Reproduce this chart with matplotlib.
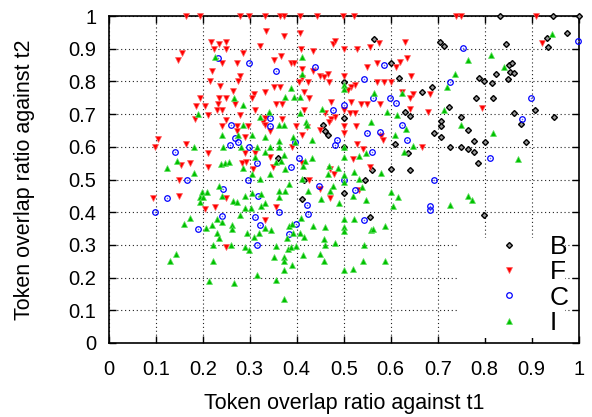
import matplotlib
matplotlib.use('Agg')
import matplotlib.pyplot as plt
from matplotlib.patches import Rectangle
from matplotlib.lines import Line2D

plt.rcParams['font.family'] = ['Liberation Sans', 'DejaVu Sans']

# B: black diamonds
b_x = [0.833, 0.946, 1.0, 0.565, 0.6, 0.618, 0.5, 0.666, 0.631, 0.641, 0.5, 0.455,
       0.46, 0.466, 0.61, 0.5, 0.636, 0.561, 0.6, 0.642, 0.361,
       0.974, 0.933, 0.935, 0.704, 0.713, 0.845, 0.851, 0.857, 0.853, 0.863, 0.823,
       0.787, 0.799, 0.816, 0.849, 0.687, 0.782, 0.818, 0.908, 0.724, 0.863, 0.75,
       0.708, 0.706, 0.878, 0.947, 0.764, 0.692, 0.706, 0.777, 0.8, 0.888, 0.727,
       0.75, 0.764, 0.777, 0.785, 0.555, 0.412, 0.5, 0.416, 0.545, 0.799]
b_y = [1.0, 1.0, 1.0, 0.929, 0.857, 0.812, 0.799, 0.768, 0.707, 0.694, 0.687, 0.666,
       0.649, 0.636, 0.61, 0.6, 0.582, 0.529, 0.531, 0.529, 0.567,
       0.949, 0.932, 0.904, 0.921, 0.908, 0.916, 0.85, 0.857, 0.829, 0.827, 0.822,
       0.811, 0.801, 0.794, 0.808, 0.784, 0.748, 0.748, 0.714, 0.722, 0.702, 0.692,
       0.68, 0.665, 0.671, 0.692, 0.651, 0.643, 0.631, 0.617, 0.615, 0.615, 0.6,
       0.6, 0.592, 0.583, 0.549, 0.385, 0.439, 0.459, 0.5, 0.5, 0.391]

# F: red inverted triangles
f_x = [0.165, 0.194, 0.279, 0.299, 0.333, 0.365, 0.373, 0.407, 0.443, 0.499, 0.522,
       0.739, 0.75, 0.909,
       0.335, 0.217, 0.234, 0.249, 0.322, 0.156, 0.224, 0.249, 0.285, 0.148, 0.24,
       0.272, 0.219, 0.28, 0.216, 0.275, 0.237, 0.265, 0.309, 0.332, 0.195, 0.235,
       0.249, 0.305, 0.185, 0.204, 0.233, 0.268, 0.231, 0.242, 0.311, 0.184, 0.211,
       0.279, 0.332, 0.249, 0.242, 0.272, 0.296, 0.328, 0.333, 0.274, 0.291, 0.104,
       0.164, 0.098, 0.291, 0.311, 0.211, 0.153, 0.174, 0.211, 0.284, 0.293, 0.307,
       0.372, 0.407, 0.478, 0.482, 0.575, 0.63, 0.409, 0.435, 0.5, 0.529, 0.555,
       0.352, 0.366, 0.388, 0.394, 0.411, 0.434, 0.571, 0.62, 0.635, 0.611, 0.549,
       0.411, 0.45, 0.459, 0.466, 0.5, 0.643, 0.404, 0.425, 0.469, 0.524, 0.516,
       0.51, 0.57, 0.586, 0.6, 0.352, 0.365, 0.416, 0.427, 0.623, 0.648, 0.641,
       0.356, 0.368, 0.472, 0.516, 0.537, 0.549, 0.577, 0.641, 0.416, 0.46, 0.513,
       0.523, 0.5, 0.368, 0.482, 0.474, 0.469, 0.399, 0.421, 0.5, 0.526, 0.45,
       0.343, 0.58, 0.584, 0.411, 0.5, 0.528, 0.666, 0.391, 0.343, 0.519, 0.541,
       0.349, 0.411, 0.471, 0.479, 0.556,
       0.922, 0.684, 0.794, 0.679,
       0.15, 0.095, 0.149, 0.25, 0.205, 0.226, 0.333, 0.249, 0.427, 0.45, 0.47,
       0.357, 0.533]
f_y = [1.0, 1.0, 1.0, 1.0, 1.0, 1.0, 1.0, 1.0, 1.0, 1.0, 1.0,
       1.0, 1.0, 1.0,
       0.955, 0.92, 0.914, 0.92, 0.908, 0.886, 0.898, 0.898, 0.886, 0.865, 0.855,
       0.855, 0.832, 0.817, 0.8, 0.8, 0.787, 0.771, 0.763, 0.768, 0.748, 0.748,
       0.748, 0.748, 0.726, 0.725, 0.73, 0.73, 0.712, 0.712, 0.712, 0.684, 0.697,
       0.697, 0.689, 0.682, 0.664, 0.663, 0.664, 0.676, 0.666, 0.649, 0.631, 0.623,
       0.609, 0.6, 0.582, 0.582, 0.58, 0.544, 0.549, 0.539, 0.551, 0.554, 0.531,
       0.939, 0.949, 0.916, 0.924, 0.918, 0.921, 0.898, 0.893, 0.898, 0.898, 0.906,
       0.865, 0.879, 0.855, 0.855, 0.839, 0.833, 0.855, 0.86, 0.872, 0.845, 0.845,
       0.809, 0.817, 0.814, 0.822, 0.817, 0.816, 0.799, 0.799, 0.799, 0.789, 0.782,
       0.774, 0.799, 0.799, 0.799, 0.782, 0.782, 0.768, 0.748, 0.768, 0.763, 0.748,
       0.731, 0.731, 0.738, 0.738, 0.731, 0.731, 0.731, 0.717, 0.712, 0.704, 0.704,
       0.704, 0.712, 0.684, 0.692, 0.685, 0.677, 0.664, 0.661, 0.664, 0.664, 0.651,
       0.649, 0.633, 0.622, 0.636, 0.641, 0.61, 0.6, 0.6, 0.569, 0.564, 0.592,
       0.539, 0.549, 0.531, 0.518, 0.539,
       0.919, 0.761, 0.719, 0.705,
       0.498, 0.444, 0.449, 0.442, 0.411, 0.415, 0.376, 0.295, 0.499, 0.472, 0.444,
       0.416, 0.467]

# C: blue circles
c_x = [0.233, 0.299, 0.26, 0.269, 0.276, 0.259, 0.299, 0.142, 0.315,
       0.356, 0.439, 0.585, 0.543, 0.562, 0.599, 0.611, 0.477, 0.5, 0.343, 0.343,
       0.623, 0.577, 0.397, 0.485, 0.482, 0.549, 0.635, 0.404, 0.56, 0.388,
       0.754, 0.999, 0.727, 0.899, 0.88, 0.812,
       0.166, 0.296, 0.124, 0.317, 0.098, 0.189, 0.241, 0.312, 0.321, 0.316, 0.243,
       0.448, 0.421, 0.423, 0.363, 0.5, 0.523, 0.544, 0.399, 0.383,
       0.692, 0.684, 0.684]
c_y = [0.873, 0.856, 0.666, 0.626, 0.615, 0.607, 0.6, 0.583, 0.549,
       0.833, 0.845, 0.85, 0.806, 0.749, 0.749, 0.733, 0.714, 0.727, 0.689, 0.665,
       0.666, 0.646, 0.614, 0.62, 0.607, 0.643, 0.622, 0.565, 0.583, 0.539,
       0.901, 0.924, 0.799, 0.749, 0.684, 0.565,
       0.5, 0.5, 0.444, 0.449, 0.4, 0.349, 0.389, 0.385, 0.36, 0.301, 0.472,
       0.481, 0.421, 0.394, 0.401, 0.5, 0.467, 0.376, 0.364, 0.334,
       0.5, 0.419, 0.407]

# I: green triangles
i_x = [0.226, 0.266, 0.285, 0.19, 0.321, 0.285, 0.24, 0.275, 0.305, 0.181, 0.243,
       0.282, 0.315, 0.332, 0.312, 0.146, 0.239, 0.248, 0.255, 0.285, 0.123, 0.182,
       0.305,
       0.411, 0.411, 0.5, 0.5, 0.388, 0.376, 0.395, 0.406, 0.564, 0.623, 0.453,
       0.342, 0.407, 0.593, 0.613, 0.42, 0.421, 0.557, 0.363, 0.372, 0.633, 0.609,
       0.393, 0.396, 0.432, 0.648, 0.333, 0.363, 0.343, 0.363, 0.372, 0.356, 0.367,
       0.418, 0.432, 0.5, 0.5, 0.533, 0.548, 0.629, 0.343, 0.376, 0.414, 0.468,
       0.466, 0.488, 0.58, 0.521, 0.5,
       0.944, 0.764, 0.814, 0.736, 0.841, 0.719, 0.714, 0.75, 0.817, 0.87,
       0.321, 0.234, 0.199, 0.21, 0.195, 0.2, 0.195, 0.242, 0.264, 0.272, 0.289,
       0.305, 0.325, 0.323, 0.332, 0.291, 0.303, 0.173, 0.16, 0.206, 0.22, 0.23,
       0.241, 0.262, 0.263, 0.279, 0.332, 0.319, 0.309, 0.294, 0.23, 0.234, 0.222,
       0.26, 0.289, 0.298, 0.143, 0.13, 0.222, 0.316, 0.213, 0.266,
       0.384, 0.412, 0.478, 0.425, 0.471, 0.363, 0.375, 0.363, 0.452, 0.489, 0.5,
       0.533, 0.538, 0.519, 0.548, 0.6, 0.615, 0.605, 0.521, 0.5, 0.5, 0.5, 0.557,
       0.562, 0.587, 0.345, 0.384, 0.391, 0.409, 0.434, 0.461, 0.393, 0.406, 0.416,
       0.38, 0.459, 0.461, 0.482, 0.544, 0.357, 0.382, 0.388, 0.399, 0.352, 0.373,
       0.373, 0.391, 0.413, 0.45, 0.457, 0.5, 0.519, 0.54, 0.587, 0.373, 0.357,
       0.373,
       0.764, 0.772, 0.727]
i_y = [0.876, 0.75, 0.728, 0.7, 0.692, 0.666, 0.637, 0.637, 0.637, 0.6, 0.6,
       0.6, 0.6, 0.585, 0.569, 0.556, 0.546, 0.549, 0.554, 0.534, 0.534, 0.52,
       0.518,
       0.876, 0.824, 0.789, 0.777, 0.779, 0.751, 0.751, 0.751, 0.765, 0.765, 0.715,
       0.707, 0.702, 0.705, 0.697, 0.677, 0.667, 0.677, 0.666, 0.666, 0.656, 0.635,
       0.63, 0.616, 0.62, 0.602, 0.63, 0.618, 0.598, 0.6, 0.574, 0.554, 0.557,
       0.557, 0.567, 0.6, 0.569, 0.572, 0.58, 0.585, 0.516, 0.531, 0.541, 0.541,
       0.518, 0.534, 0.52, 0.523, 0.513,
       0.945, 0.867, 0.881, 0.824, 0.843, 0.782, 0.714, 0.667, 0.643, 0.564,
       0.501, 0.481, 0.462, 0.462, 0.445, 0.445, 0.43, 0.45, 0.434, 0.43, 0.45,
       0.46, 0.457, 0.419, 0.427, 0.413, 0.413, 0.383, 0.364, 0.352, 0.362, 0.378,
       0.37, 0.36, 0.35, 0.391, 0.352, 0.335, 0.324, 0.335, 0.335, 0.321, 0.301,
       0.301, 0.293, 0.284, 0.273, 0.252, 0.252, 0.209, 0.19, 0.185,
       0.485, 0.501, 0.481, 0.465, 0.464, 0.464, 0.464, 0.445, 0.439, 0.427, 0.493,
       0.501, 0.477, 0.45, 0.437, 0.462, 0.446, 0.419, 0.378, 0.378, 0.355, 0.343, 0.345,
       0.348, 0.358, 0.347, 0.358, 0.365, 0.383, 0.358, 0.355, 0.335, 0.335, 0.324,
       0.321, 0.317, 0.301, 0.306, 0.301, 0.296, 0.289, 0.294, 0.296, 0.263, 0.263,
       0.25, 0.238, 0.268, 0.273, 0.251, 0.222, 0.225, 0.251, 0.251, 0.222, 0.194,
       0.136,
       0.45, 0.437, 0.423]

ticks = [0, 0.1, 0.2, 0.3, 0.4, 0.5, 0.6, 0.7, 0.8, 0.9, 1]
tick_labels = ['0', '0.1', '0.2', '0.3', '0.4', '0.5', '0.6', '0.7', '0.8', '0.9', '1']

fig = plt.figure(figsize=(5.92, 4.17), dpi=100)
ax = fig.add_axes([0.1836, 0.1775, 0.794, 0.784])
ax.set_xlim(0, 1)
ax.set_ylim(0, 1)
ax.set_xticks(ticks)
ax.set_xticklabels(tick_labels)
ax.set_yticks(ticks)
ax.set_yticklabels(tick_labels)
ax.tick_params(direction='in', length=5, width=1, top=True, right=True,
               labelsize=14.5, colors='black')
ax.tick_params(axis='x', pad=12)
ax.tick_params(axis='y', pad=9)
ax.grid(True, color='#222222', linestyle=(0, (1, 2.5)), linewidth=0.8)
for s in ax.spines.values():
    s.set_linewidth(1.2)

# white key area hides the grid in the lower right
ax.add_patch(Rectangle((0.745, 0.016), 0.226, 0.304, transform=ax.transAxes,
                       facecolor='white', edgecolor='none', zorder=1.6))

ms = 4.6
ax.plot(b_x, b_y, linestyle='none', marker='D', ms=3.0, mfc='#999999',
        mec='black', mew=1.0, zorder=3, clip_on=False)
ax.plot(f_x, f_y, linestyle='none', marker='v', ms=ms, mfc='#ff0000',
        mec='#ff6060', mew=0.5, zorder=3, clip_on=False)
ax.plot(c_x, c_y, linestyle='none', marker='o', ms=4.0, mfc='none',
        mec='#0000ff', mew=0.9, zorder=3, clip_on=False)
ax.plot(c_x, c_y, linestyle='none', marker='o', ms=1.1, mfc='#6060ff',
        mec='none', zorder=3, clip_on=False)
ax.plot(i_x, i_y, linestyle='none', marker='^', ms=ms, mfc='#00c000',
        mec='#60e060', mew=0.5, zorder=3, clip_on=False)

handles = [
    Line2D([], [], linestyle='none', marker='D', ms=3.0, mfc='#999999', mec='black', mew=1.0),
    Line2D([], [], linestyle='none', marker='v', ms=ms, mfc='#ff0000', mec='#ff6060', mew=0.5),
    Line2D([], [], linestyle='none', marker='o', ms=4.0, mfc='none', mec='#0000ff', mew=0.9),
    Line2D([], [], linestyle='none', marker='^', ms=ms, mfc='#00c000', mec='#60e060', mew=0.5),
]
leg = ax.legend(handles, ['B', 'F', 'C', 'I'], loc='lower right',
                bbox_to_anchor=(1.024, -0.04), frameon=False, fontsize=19,
                handlelength=1.5, handletextpad=0.8, labelspacing=0.05,
                borderpad=0.3)

ax.set_xlabel('Token overlap ratio against t1', fontsize=15.5)
ax.set_ylabel('Token overlap ratio against t2', fontsize=15.5)
ax.xaxis.set_label_coords(0.5, -0.153)
ax.yaxis.set_label_coords(-0.157, 0.5)

fig.savefig('out.png', dpi=100)
